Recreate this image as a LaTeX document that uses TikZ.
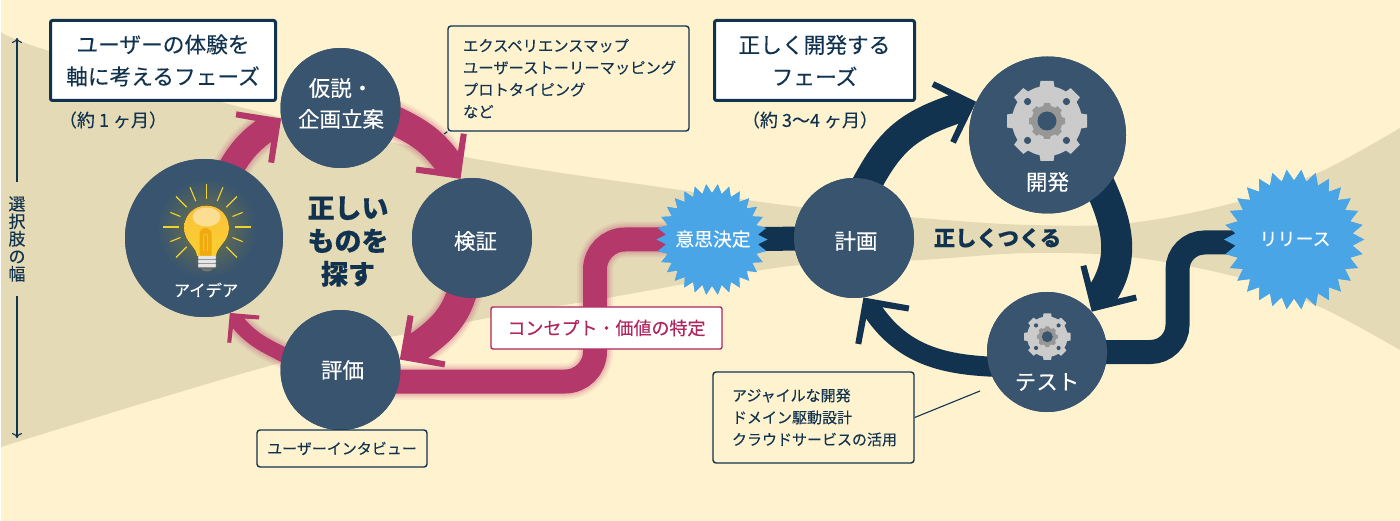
\documentclass[tikz,border=0pt]{standalone}
\usepackage{fontspec}
\setmainfont{Noto Sans CJK JP}[FakeBold=0.2]
\usetikzlibrary{arrows.meta,shapes.geometric,calc}
\definecolor{cream}{HTML}{FFF3CF}
\definecolor{tanband}{HTML}{E5DAB6}
\definecolor{navy}{HTML}{12334F}
\definecolor{ballc}{HTML}{38546F}
\definecolor{mag}{HTML}{B5386A}
\definecolor{magtext}{HTML}{B0265E}
\definecolor{sky}{HTML}{4AA5E6}
\definecolor{gearc}{HTML}{CBCBCB}
\definecolor{gearin}{HTML}{979797}
\definecolor{ray}{HTML}{F0D42E}
\definecolor{glasstop}{HTML}{FCC03C}
\definecolor{glassbot}{HTML}{F8D030}
\definecolor{filam}{HTML}{EFAA0E}
\pgfdeclarearrow{
  name=BarbHead,
  parameters={\the\pgfarrowlength,\the\pgfarrowwidth,\the\pgflinewidth},
  setup code={
    \pgfarrowssettipend{0pt}
    \pgfarrowssetlineend{0pt}
    \pgfarrowssetbackend{0pt}
    \pgfarrowssetvisualbackend{0pt}
    \pgfarrowshullpoint{0pt}{0pt}
    \pgfarrowssavethe\pgfarrowlength
    \pgfarrowssavethe\pgfarrowwidth
  },
  drawing code={
    \pgfmathsetlengthmacro\bhx{1.414*\pgfarrowwidth+0.5*\pgflinewidth}
    \pgfmathsetlengthmacro\bhh{0.5*\pgflinewidth}
    \pgfmathsetlengthmacro\bhc{\bhx-\pgfarrowlength}
    \pgfmathsetlengthmacro\bha{\bhx-\pgfarrowlength-.707*\pgfarrowwidth}
    \pgfmathsetlengthmacro\bhb{\pgfarrowlength-.707*\pgfarrowwidth}
    \pgfpathmoveto{\pgfpoint{\bhx}{0pt}}
    \pgfpathlineto{\pgfpoint{\bhc}{\pgfarrowlength}}
    \pgfpathlineto{\pgfpoint{\bha}{\bhb}}
    \pgfpathlineto{\pgfpoint{-.5pt}{\bhh}}
    \pgfpathlineto{\pgfpoint{-.5pt}{-\bhh}}
    \pgfpathlineto{\pgfpoint{\bha}{-\bhb}}
    \pgfpathlineto{\pgfpoint{\bhc}{-\pgfarrowlength}}
    \pgfpathclose
    \pgfusepathqfill
  },
  defaults={length=32pt,width=5pt}
}
\tikzset{
  x=1pt,y=1pt,
  ball/.style={circle,fill=ballc,inner sep=0pt,text=white,font=\fontsize{21.5}{31}\selectfont,align=center},
  balltext/.style={text=white,inner sep=0pt,font=\fontsize{21.5}{31}\selectfont},
  burst/.style={star,star points=30,shape border rotate=90,inner sep=0pt,fill=sky,text=white,font=\fontsize{18.5}{22}\selectfont},
  phasebox/.style={draw=navy,line width=3pt,fill=white,rounded corners=2pt,text=navy,align=center,font=\fontsize{21.7}{32}\selectfont,inner sep=0pt,minimum height=80pt},
  notebox/.style={draw=navy,line width=1.4pt,fill=cream,rounded corners=3pt,text=navy,font=\fontsize{15}{22}\selectfont,inner sep=0pt},
  period/.style={text=navy,font=\fontsize{18}{22}\selectfont,inner sep=0pt},
  magflow/.style={draw=mag,line cap=butt},
  navyflow/.style={draw=navy,line cap=butt},
  glowing/.style={
    preaction={draw=mag,-,opacity=.08,line width=#1+12pt,line cap=butt},
    preaction={draw=mag,-,opacity=.10,line width=#1+8pt,line cap=butt},
    preaction={draw=mag,-,opacity=.14,line width=#1+4pt,line cap=butt}},
  axisline/.style={draw=navy,line width=1.1pt,-{To[length=5pt,width=10pt]}},
  leader/.style={draw=navy,line width=1.1pt}
}
\newcommand{\gearshape}[3]{%
  \begin{scope}[shift={(#1,#2)},scale=#3]
    \fill[gearc] (0,0) circle (35);
    \foreach \aa in {0,45,...,315}{\fill[gearc,rotate=\aa] (-8,31) -- (-6.5,40) -- (6.5,40) -- (8,31) -- cycle;}
    \foreach \aa in {45,135,225,315}{\fill[ballc] (\aa:27.5) circle (3.6);}
    \fill[gearin] (0,0) circle (15.5);
    \foreach \aa in {0,45,...,315}{\fill[gearin,rotate=\aa] (-4,14) -- (-3,18) -- (3,18) -- (4,14) -- cycle;}
    \fill[ballc] (0,0) circle (9.5);
  \end{scope}}
\begin{document}
\begin{tikzpicture}
\useasboundingbox (0,0) rectangle (1400,-521);
\fill[white] (0,0) rectangle (1400,-521);
\fill[cream] (1,0) rectangle (1400,-521);
% option-width band
\fill[tanband] plot[smooth,tension=.6] coordinates {(1,-32) (46,-50) (240,-107) (465,-157) (680,-190) (800,-207) (920,-218) (1030,-225) (1130,-223) (1237,-202) (1320,-172) (1400,-128)}
  -- plot[smooth,tension=.6] coordinates {(1400,-350) (1320,-307) (1237,-277) (1130,-257) (1030,-253) (920,-260) (800,-265) (707,-280) (607,-298) (467,-322) (280,-363) (1,-447)} -- cycle;

% anchors that the connectors need
\path node[ball,minimum size=158pt] (idea) at (204,-238) {}
      node[ball,minimum size=120pt] (hyp) at (340.5,-108) {}
      node[ball,minimum size=120pt] (veri) at (472,-238) {}
      node[ball,minimum size=120pt] (eval) at (340.5,-370) {}
      node[ball,minimum size=120pt] (plan) at (854,-238) {}
      node[ball,minimum size=157pt] (dev) at (1047.5,-135) {}
      node[ball,minimum size=120pt] (test) at (1047,-352) {}
      node[burst,star point ratio=1.2,minimum size=111pt] (decide) at (712,-239.5) {}
      node[burst,star point ratio=1.19,minimum size=140pt] (release) at (1294,-239.5) {};

% magenta loop
\draw[magflow,line width=26pt,glowing={26pt},-{BarbHead[length=32pt,width=6pt]}]
  ($(idea)!.85!(idea.70)$) to[out=60,in=216] ($(hyp.190)+(216:21.5)$);
\draw[magflow,line width=29pt,glowing={29pt},-{BarbHead[length=32pt,width=6pt]}]
  ($(hyp)!.85!(hyp.-12)$) to[out=-25,in=127] ($(veri.101)+(127:23)$);
\draw[magflow,line width=30pt,glowing={30pt},-{BarbHead[length=32pt,width=6pt]}]
  ($(veri)!.85!(veri.260)$) to[out=-105,in=35] ($(eval.10)+(35:23.5)$);
\draw[magflow,line width=15pt,glowing={15pt},-{BarbHead[length=21pt,width=4pt]}]
  ($(eval)!.85!(eval.167)$) to[out=152,in=-50] ($(idea.-71)+(-50:13.2)$);
\draw[magflow,line width=24pt,glowing={24pt},rounded corners=30pt]
  (eval.center |- 0,-381.5) -- (595,-381.5) -- (595,-239.5) -- (decide.center);
% navy loop
\draw[navyflow,line width=24pt] (decide.center) -- (plan.center);
\draw[navyflow,line width=30pt,-{BarbHead[length=33pt,width=6pt]}]
  ($(plan)!.85!(plan.78)$) to[out=62,in=199,looseness=1.1] ($(dev.155)+(199:23.5)$);
\draw[navyflow,line width=31pt,-{BarbHead[length=33pt,width=6pt]}]
  ($(dev)!.85!(dev.-42)$) to[out=-65,in=59] ($(test.42)+(59:24)$);
\draw[navyflow,line width=20pt,-{BarbHead[length=33pt,width=6pt]}]
  ($(test)!.85!(test.197)$) to[out=178,in=-55] ($(plan.-81)+(-55:18.5)$);
\draw[navyflow,line width=24pt,rounded corners=27pt]
  (test.center) -- (1177.5,-352) -- (1177.5,-242.5) -- ([yshift=-3pt]release.center);

% circles and stars over the connectors
\fill[ballc] (idea.center) circle (79) (hyp.center) circle (60) (veri.center) circle (60) (eval.center) circle (60)
  (plan.center) circle (60) (dev.center) circle (78.5) (test.center) circle (60);
\path node[burst,star point ratio=1.2,minimum size=111pt] at (decide) {}
      node[burst,star point ratio=1.19,minimum size=140pt] at (release) {};

% bulb
\shade[inner color=ballc!55!ray!85!black,outer color=ballc] (206.5,-228) circle (50);
\foreach \aa/\rr in {90/43,67.5/43,45/43,22/39,0/44,-22/39,-45/43,-135/43,-158/39,180/44,158/39,135/43,112.5/43}
  \draw[ray,line width=1.1pt] (206.5,-227) ++(\aa:28) -- ++(\aa:\rr-28);
\fill[top color=glasstop,bottom color=glassbot]
  (197,-256) .. controls (196,-246) and (184,-242) .. (184,-228) .. controls (184,-215) and (194,-205.5) .. (206.5,-205.5) .. controls (219,-205.5) and (229,-215) .. (229,-228) .. controls (229,-242) and (217,-246) .. (216,-256) -- cycle;
\fill[white,opacity=.45] (206.5,-217) ellipse (14 and 9.5);
\fill[filam] (199.5,-256) -- (199.5,-234) arc (180:0:6) -- (211.5,-256) -- cycle;
\draw[glasstop,line width=1pt] (203.5,-251) -- (203.5,-236) arc (180:0:2) -- (207.5,-251);
\fill[black!45] (198,-256) rectangle (216,-268);
\foreach \yy in {-256,-260,-264}\fill[black!10,rounded corners=1pt] (198,\yy) rectangle (216,\yy-2.8);
\fill[black!55] (201,-268.5) .. controls (203,-272.5) and (211,-272.5) .. (213,-268.5) -- cycle;

% gears
\gearshape{1047}{-121}{1}
\gearshape{1047.3}{-336.7}{.58}

% circle and star texts
\node[balltext,font=\fontsize{16.3}{20}\selectfont] (idealabel) at (206,-290) {アイデア};
\node[balltext,align=center] (hyplabel) at (341,-103.5) {仮説・\\企画立案};
\node[balltext] (verilabel) at (475.5,-241) {検証};
\node[balltext] (evallabel) at (342.5,-370) {評価};
\node[balltext] (planlabel) at (856,-241) {計画};
\node[balltext] (devlabel) at (1047.5,-182) {開発};
\node[balltext] (testlabel) at (1047,-382) {テスト};
\node[text=white,inner sep=0pt,font=\fontsize{18.8}{22}\selectfont] (decidelabel) at (713,-239) {意思決定};
\node[text=white,inner sep=0pt,font=\fontsize{18}{22}\selectfont] (releaselabel) at (1295,-239) {リリース};

% headings
\node[text=navy,align=center,inner sep=0pt,font=\fontsize{27}{33}\bfseries\selectfont] (findright) at (348,-241.5) {正しい\\ものを\\探す};
\node[text=navy,inner sep=0pt,font=\fontsize{21.3}{25}\bfseries\selectfont] (buildright) at (997.5,-238) {正しくつくる};

% boxes
\node[phasebox,minimum width=225pt] (phaseA) at (163,-60.5) {ユーザーの体験を\\軸に考えるフェーズ};
\node[phasebox,minimum width=200pt] (phaseB) at (814.5,-60.5) {正しく開発する\\フェーズ};
\node[period] (periodA) at (113,-120) {（約 1 ヶ月）};
\node[period] (periodB) at (810,-120) {（約 3〜4 ヶ月）};
\node[notebox,text width=215pt,inner xsep=13pt,minimum height=105pt,align=left,font=\fontsize{15.3}{22}\selectfont] (noteA) at (568.5,-78.5)
  {\hspace*{2pt}エクスペリエンスマップ\\\hspace*{2pt}ユーザーストーリーマッピング\\\hspace*{2pt}プロトタイピング\\\hspace*{2pt}など};
\node[notebox,minimum width=170pt,minimum height=37pt] (noteB) at (342,-448.5) {ユーザーインタビュー};
\node[draw=magtext,line width=1.4pt,fill=white,rounded corners=2pt,text=magtext,inner sep=0pt,minimum width=231pt,minimum height=42pt,font=\fontsize{18}{22}\selectfont] (concept) at (606.5,-328) {コンセプト・価値の特定};
\node[notebox,text width=163pt,inner xsep=19pt,minimum height=91pt,align=left] (noteC) at (813.5,-417.5)
  {アジャイルな開発\\ドメイン駆動設計\\クラウドサービスの活用};

\coordinate (noteAend) at (444,-134);
\coordinate (noteCend) at (980,-391);
\draw[leader] (noteA.south west) -- (noteAend);
\draw[leader] (noteC.east) -- (noteCend);

% axis
\node[text=navy,inner sep=0pt,align=center,minimum height=113pt,font=\fontsize{17}{17.5}\selectfont] (axislabel) at (17,-239) {選\\択\\肢\\の\\幅};
\coordinate (axistop) at (17,-38);
\coordinate (axisbot) at (17,-438);
\draw[axisline] (axislabel.north) -- (axistop);
\draw[axisline] (axislabel.south) -- (axisbot);
\end{tikzpicture}
\end{document}
